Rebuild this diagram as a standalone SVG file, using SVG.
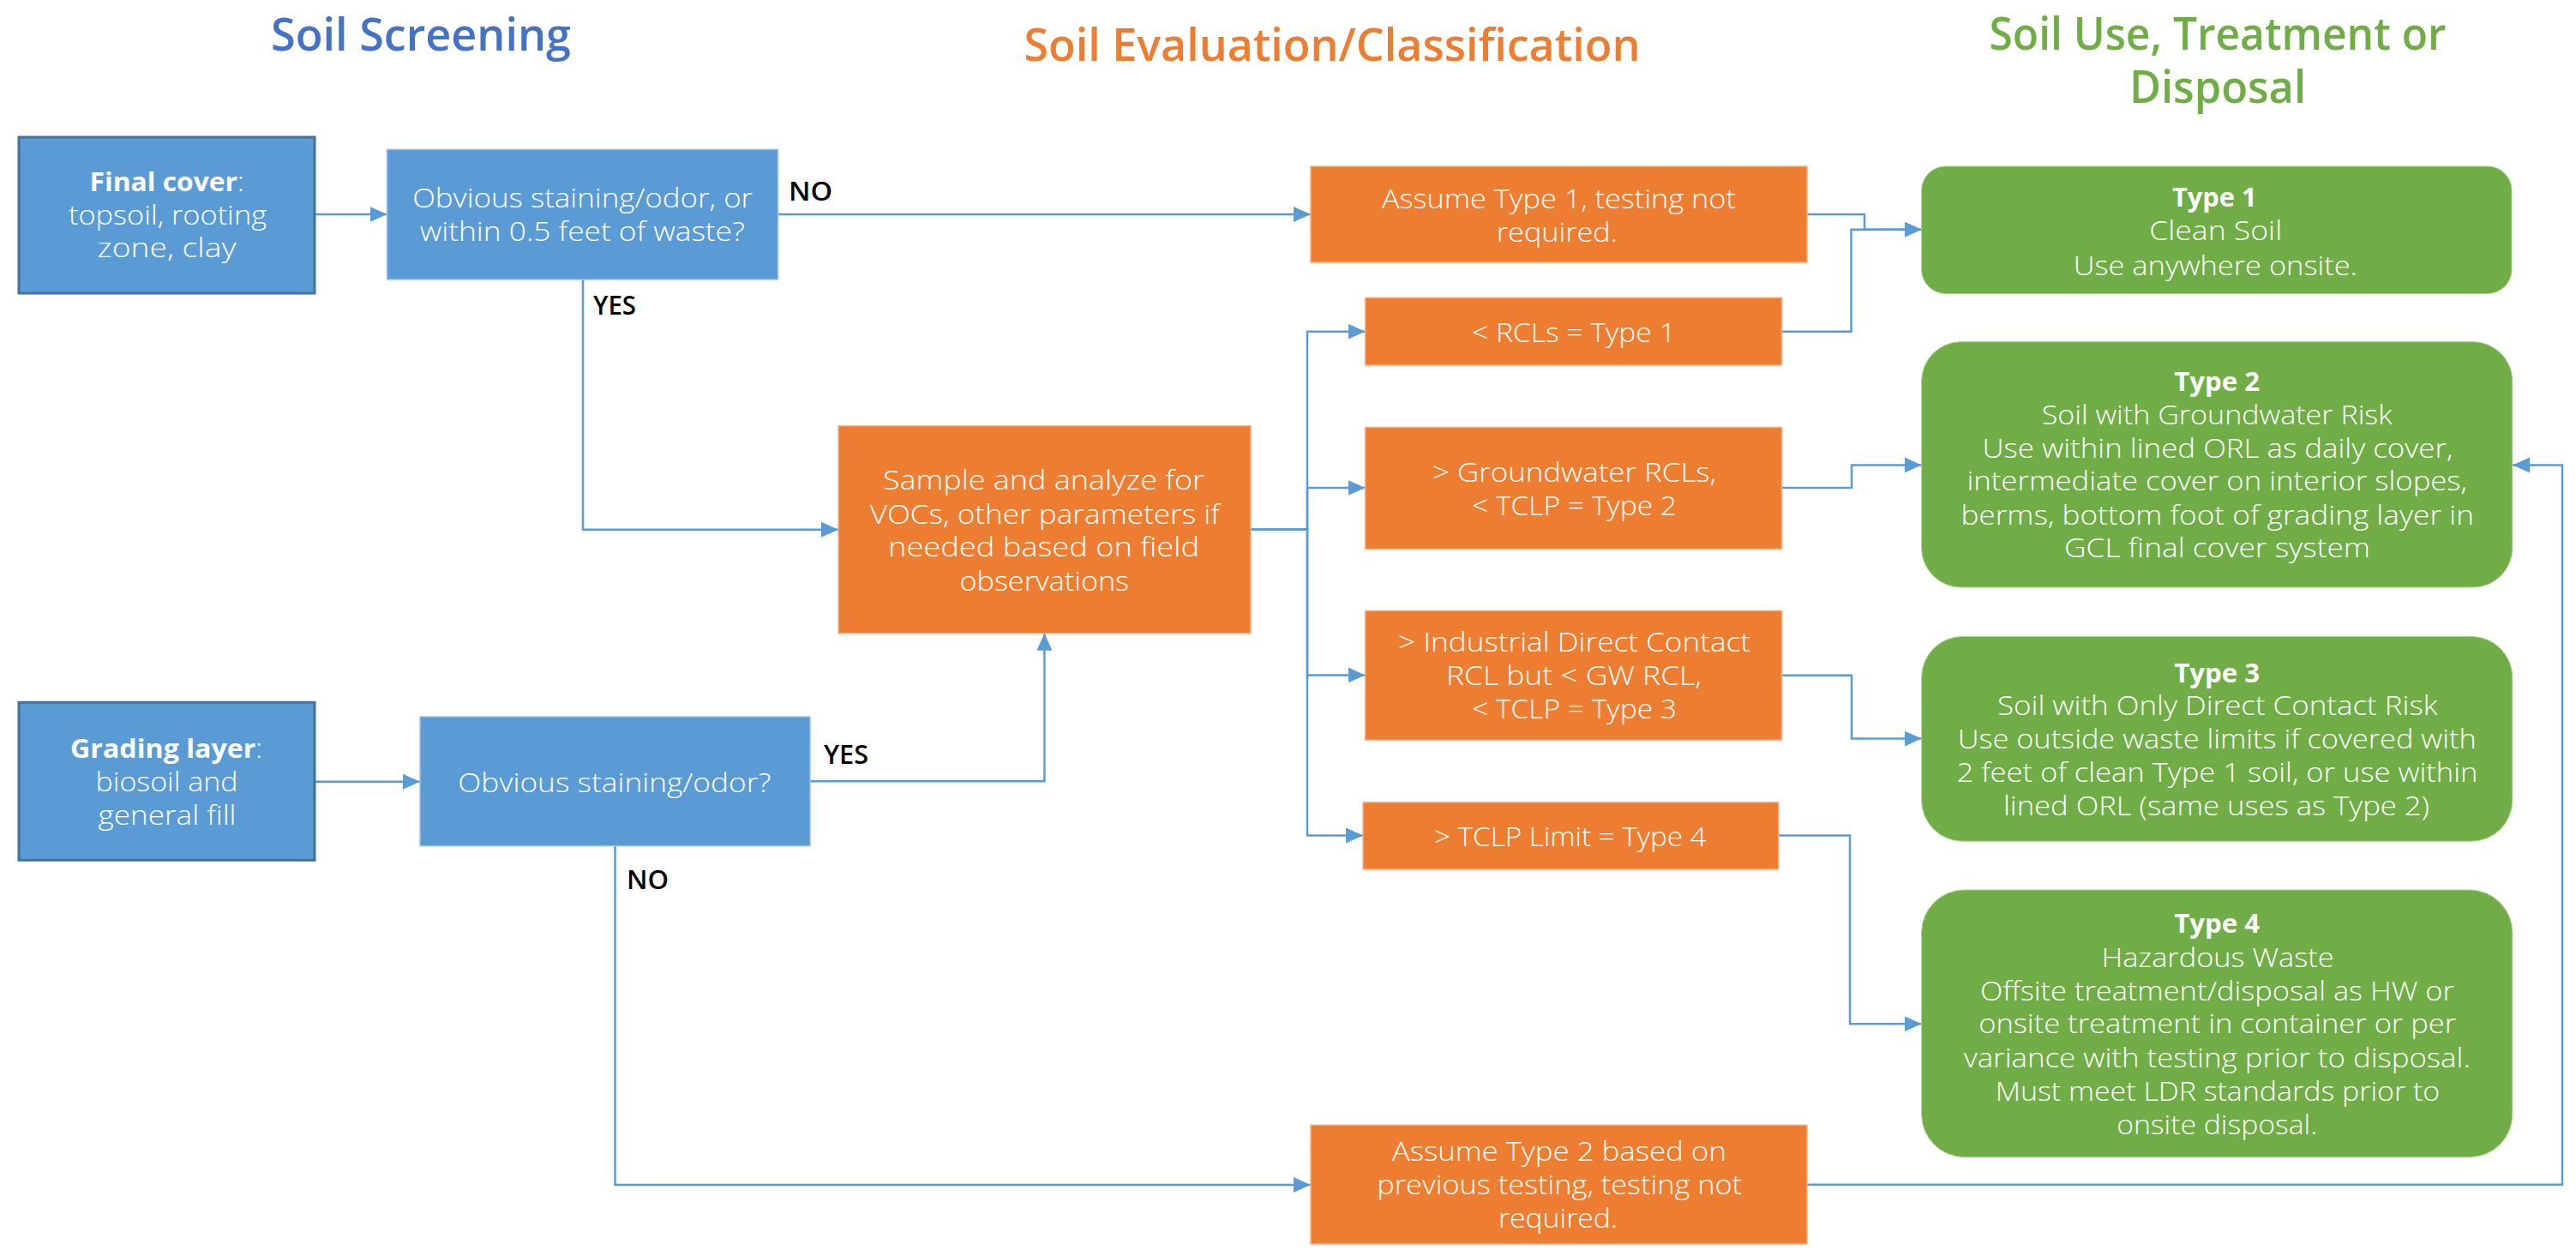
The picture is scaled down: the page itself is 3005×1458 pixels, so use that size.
<svg xmlns="http://www.w3.org/2000/svg" width="3005" height="1458" viewBox="0 0 3005 1458">
<style>
.bg{fill:#FFFFFF}
.title{font-family:"Open Sans","Liberation Sans",sans-serif;font-size:52px;font-weight:600;text-anchor:middle}
.t-blue{fill:#4472C4}
.t-orange{fill:#ED7D31}
.t-green{fill:#70AD47}
.src{fill:#5B9BD5;stroke:#41719C;stroke-width:3}
.q{fill:#5B9BD5;stroke:#9DC3E6;stroke-width:1.5}
.or{fill:#ED7D31;stroke:#F4B183;stroke-width:1.5}
.gr{fill:#70AD47;stroke:#A9D18E;stroke-width:1}
.txt{font-family:"Open Sans","Liberation Sans",sans-serif;font-size:31px;font-weight:300;fill:#FFFFFF;text-anchor:middle}
.b{font-weight:bold}
.lbl{font-family:"Open Sans","Liberation Sans",sans-serif;font-size:30px;font-weight:600;fill:#000000}
.con{fill:none;stroke:#5B9BD5;stroke-width:2.5;marker-end:url(#arr)}
</style>
<defs>
<marker id="arr" viewBox="0 0 20 18" refX="20" refY="9" markerWidth="20" markerHeight="18" markerUnits="userSpaceOnUse" orient="auto">
<path d="M0,0 L20,9 L0,18 z" fill="#5B9BD5"/>
</marker>
</defs>
<rect class="bg" x="0" y="0" width="3005" height="1458"/>

<g id="titles">
<text class="title t-blue" x="491" y="59" textLength="350" lengthAdjust="spacingAndGlyphs">Soil Screening</text>
<text class="title t-orange" x="1554" y="71" textLength="719" lengthAdjust="spacingAndGlyphs">Soil Evaluation/Classification</text>
<text class="title t-green"><tspan x="2587" y="58" textLength="533" lengthAdjust="spacingAndGlyphs">Soil Use, Treatment or</tspan><tspan x="2587" y="120" textLength="206" lengthAdjust="spacingAndGlyphs">Disposal</tspan></text>
</g>

<g id="connectors">
<path class="con" d="M367,250 H451.5"/>
<path class="con" d="M907.5,250 H1529"/>
<path class="con" d="M680,326 V617.7 H978"/>
<path class="con" d="M367,911.7 H490"/>
<path class="con" d="M945,911.2 H1218.4 V738.7"/>
<path class="con" d="M717.5,987 V1382 H1529"/>
<path class="con" d="M1459,617.7 H1525 V386.7 H1592.6"/>
<path class="con" d="M1459,617.7 H1525 V569 H1592.6"/>
<path class="con" d="M1459,617.7 H1525 V787.5 H1592.6"/>
<path class="con" d="M1459,617.7 H1525 V974.5 H1590"/>
<path class="con" d="M2108,250 H2175 V267.7 H2241.6"/>
<path class="con" d="M2078.5,386.7 H2159.5 V267.7 H2241.6"/>
<path class="con" d="M2078.5,569 H2160 V542.4 H2241.6"/>
<path class="con" d="M2078.5,787.7 H2160 V861.6 H2241.6"/>
<path class="con" d="M2074.7,974.5 H2158 V1194.2 H2241.6"/>
<path class="con" d="M2108,1381.7 H2989 V542.4 H2931"/>
</g>

<g id="labels">
<text class="lbl" x="920" y="234" textLength="51" lengthAdjust="spacingAndGlyphs">NO</text>
<text class="lbl" x="692" y="367" textLength="50" lengthAdjust="spacingAndGlyphs">YES</text>
<text class="lbl" x="961" y="891" textLength="52" lengthAdjust="spacingAndGlyphs">YES</text>
<text class="lbl" x="731" y="1037" textLength="49" lengthAdjust="spacingAndGlyphs">NO</text>
</g>

<g id="final-cover">
<rect class="src" x="22" y="160" width="345" height="182"/>
<text class="txt" x="194.5" y="222.7" textLength="180" lengthAdjust="spacingAndGlyphs"><tspan class="b">Final cover</tspan>:</text>
<text class="txt" x="195.5" y="261.7" textLength="231" lengthAdjust="spacingAndGlyphs">topsoil, rooting</text>
<text class="txt" x="194.5" y="300" textLength="162" lengthAdjust="spacingAndGlyphs">zone, clay</text>
</g>

<g id="grading-layer">
<rect class="src" x="22" y="819.3" width="345" height="184"/>
<text class="txt" x="194" y="884" textLength="224" lengthAdjust="spacingAndGlyphs"><tspan class="b">Grading layer</tspan>:</text>
<text class="txt" x="194.5" y="923.3" textLength="166" lengthAdjust="spacingAndGlyphs">biosoil and</text>
<text class="txt" x="195" y="962.3" textLength="161" lengthAdjust="spacingAndGlyphs">general fill</text>
</g>

<g id="q1">
<rect class="q" x="451.5" y="174.3" width="456" height="151.7"/>
<text class="txt" x="679.7" y="241.7" textLength="397" lengthAdjust="spacingAndGlyphs">Obvious staining/odor, or</text>
<text class="txt" x="679.3" y="281" textLength="379" lengthAdjust="spacingAndGlyphs">within 0.5 feet of waste?</text>
</g>

<g id="q2">
<rect class="q" x="490" y="836" width="455" height="150.7"/>
<text class="txt" x="716.8" y="923.5" textLength="365" lengthAdjust="spacingAndGlyphs">Obvious staining/odor?</text>
</g>

<g id="sample">
<rect class="or" x="978" y="496.7" width="481" height="242"/>
<text class="txt" x="1217.5" y="571" textLength="375" lengthAdjust="spacingAndGlyphs">Sample and analyze for</text>
<text class="txt" x="1218.7" y="610.6" textLength="408" lengthAdjust="spacingAndGlyphs">VOCs, other parameters if</text>
<text class="txt" x="1217.5" y="649.2" textLength="363" lengthAdjust="spacingAndGlyphs">needed based on field</text>
<text class="txt" x="1218.3" y="688.5" textLength="197.5" lengthAdjust="spacingAndGlyphs">observations</text>
</g>

<g id="assume-type1">
<rect class="or" x="1529" y="194" width="579" height="112"/>
<text class="txt" x="1818.4" y="242.7" textLength="413" lengthAdjust="spacingAndGlyphs">Assume Type 1, testing not</text>
<text class="txt" x="1816.3" y="281.7" textLength="141" lengthAdjust="spacingAndGlyphs">required.</text>
</g>

<g id="rcl-type1">
<rect class="or" x="1592.6" y="347.3" width="485.9" height="78.7"/>
<text class="txt" x="1835.8" y="399" textLength="237.6" lengthAdjust="spacingAndGlyphs">&lt; RCLs = Type 1</text>
</g>

<g id="gw-type2">
<rect class="or" x="1592.6" y="498.4" width="485.9" height="142.1"/>
<text class="txt" x="1836.5" y="562" textLength="331" lengthAdjust="spacingAndGlyphs">&gt; Groundwater RCLs,</text>
<text class="txt" x="1836.5" y="600.8" textLength="239" lengthAdjust="spacingAndGlyphs">&lt; TCLP = Type 2</text>
</g>

<g id="dc-type3">
<rect class="or" x="1592.6" y="712.4" width="485.9" height="150.8"/>
<text class="txt" x="1836.5" y="760.4" textLength="411" lengthAdjust="spacingAndGlyphs">&gt; Industrial Direct Contact</text>
<text class="txt" x="1835.9" y="799" textLength="298" lengthAdjust="spacingAndGlyphs">RCL but &lt; GW RCL,</text>
<text class="txt" x="1836.5" y="837.6" textLength="239" lengthAdjust="spacingAndGlyphs">&lt; TCLP = Type 3</text>
</g>

<g id="tclp-type4">
<rect class="or" x="1590" y="935.8" width="484.7" height="78.2"/>
<text class="txt" x="1831.8" y="986.6" textLength="317.5" lengthAdjust="spacingAndGlyphs">&gt; TCLP Limit = Type 4</text>
</g>

<g id="assume-type2">
<rect class="or" x="1529" y="1312.3" width="579" height="138.7"/>
<text class="txt" x="1818.8" y="1354.3" textLength="390" lengthAdjust="spacingAndGlyphs">Assume Type 2 based on</text>
<text class="txt" x="1819.2" y="1393.3" textLength="425.7" lengthAdjust="spacingAndGlyphs">previous testing, testing not</text>
<text class="txt" x="1817.4" y="1432.3" textLength="139" lengthAdjust="spacingAndGlyphs">required.</text>
</g>

<g id="type1">
<rect class="gr" x="2241.6" y="194" width="688.4" height="148.4" rx="28" ry="28"/>
<text class="txt b" x="2583.3" y="241" textLength="98.6" lengthAdjust="spacingAndGlyphs">Type 1</text>
<text class="txt" x="2584.7" y="280" textLength="155" lengthAdjust="spacingAndGlyphs">Clean Soil</text>
<text class="txt" x="2584.3" y="320.5" textLength="331" lengthAdjust="spacingAndGlyphs">Use anywhere onsite.</text>
</g>

<g id="type2">
<rect class="gr" x="2241.6" y="398.7" width="689.2" height="286.3" rx="46" ry="46"/>
<text class="txt b" x="2586.2" y="456" textLength="100" lengthAdjust="spacingAndGlyphs">Type 2</text>
<text class="txt" x="2586.2" y="494.6" textLength="409" lengthAdjust="spacingAndGlyphs">Soil with Groundwater Risk</text>
<text class="txt" x="2587" y="533.5" textLength="549" lengthAdjust="spacingAndGlyphs">Use within lined ORL as daily cover,</text>
<text class="txt" x="2586.2" y="572.3" textLength="583.5" lengthAdjust="spacingAndGlyphs">intermediate cover on interior slopes,</text>
<text class="txt" x="2586.7" y="611.6" textLength="598.6" lengthAdjust="spacingAndGlyphs">berms, bottom foot of grading layer in</text>
<text class="txt" x="2586.5" y="649.6" textLength="357" lengthAdjust="spacingAndGlyphs">GCL final cover system</text>
</g>

<g id="type3">
<rect class="gr" x="2241.6" y="742.4" width="689.2" height="238.8" rx="48" ry="48"/>
<text class="txt b" x="2586.2" y="796" textLength="100" lengthAdjust="spacingAndGlyphs">Type 3</text>
<text class="txt" x="2586.8" y="834" textLength="513.6" lengthAdjust="spacingAndGlyphs">Soil with Only Direct Contact Risk</text>
<text class="txt" x="2586.2" y="873.2" textLength="605" lengthAdjust="spacingAndGlyphs">Use outside waste limits if covered with</text>
<text class="txt" x="2586.5" y="912" textLength="608" lengthAdjust="spacingAndGlyphs">2 feet of clean Type 1 soil, or use within</text>
<text class="txt" x="2585.5" y="950.9" textLength="497" lengthAdjust="spacingAndGlyphs">lined ORL (same uses as Type 2)</text>
</g>

<g id="type4">
<rect class="gr" x="2241.6" y="1038" width="689.2" height="311.6" rx="50" ry="50"/>
<text class="txt b" x="2586.2" y="1088.4" textLength="100" lengthAdjust="spacingAndGlyphs">Type 4</text>
<text class="txt" x="2587" y="1127.7" textLength="271" lengthAdjust="spacingAndGlyphs">Hazardous Waste</text>
<text class="txt" x="2586.4" y="1166.5" textLength="553" lengthAdjust="spacingAndGlyphs">Offsite treatment/disposal as HW or</text>
<text class="txt" x="2586.7" y="1205.4" textLength="557" lengthAdjust="spacingAndGlyphs">onsite treatment in container or per</text>
<text class="txt" x="2586.2" y="1244.6" textLength="591" lengthAdjust="spacingAndGlyphs">variance with testing prior to disposal.</text>
<text class="txt" x="2587" y="1283.5" textLength="518.5" lengthAdjust="spacingAndGlyphs">Must meet LDR standards prior to</text>
<text class="txt" x="2586.2" y="1322.8" textLength="234" lengthAdjust="spacingAndGlyphs">onsite disposal.</text>
</g>
</svg>
